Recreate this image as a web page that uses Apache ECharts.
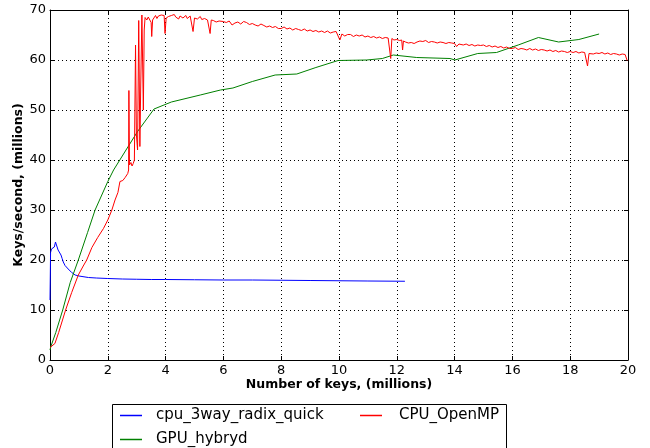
<!DOCTYPE html>
<html>
<head>
<meta charset="utf-8">
<script src="https://cdn.jsdelivr.net/npm/echarts@6/dist/echarts.min.js"></script>
<style>html,body{margin:0;padding:0;background:#fff}#c{width:650px;height:448px}</style>
</head>
<body>
<div id="c"></div>
<script>
var seriesNames = ['cpu_3way_radix_quick', 'GPU_hybryd', 'CPU_OpenMP'];
var xTicks = { min: 0, max: 20, interval: 2 };
var yTicks = { min: 0, max: 70, interval: 10 };

var cpuRadix = [
  [0, 12], [0.02, 21.5], [0.05, 22.2], [0.1, 22.3], [0.15, 22.6], [0.19, 23.6], [0.22, 24.0],
  [0.25, 23.2], [0.28, 22.0], [0.31, 22.3], [0.34, 22.2], [0.38, 21.0], [0.42, 20.3],
  [0.46, 19.6], [0.52, 18.9], [0.63, 18.2], [0.75, 17.5], [0.87, 17.0], [1.0, 16.8],
  [1.33, 16.5], [1.6, 16.4], [2.0, 16.3], [2.5, 16.2], [3.0, 16.15], [3.52, 16.1],
  [4.0, 16.1], [5.0, 16.05], [6.0, 16.0], [7.0, 16.0], [8.0, 15.95], [9.0, 15.9],
  [10.0, 15.85], [11.0, 15.8], [12.28, 15.75]
];

var gpuHybryd = [
  [0, 2.0], [0.03, 2.7], [0.2, 5.5], [0.44, 10], [0.7, 15.5], [0.98, 20], [1.3, 25.5],
  [1.56, 30], [2.0, 35.7], [2.2, 38], [2.63, 42], [3.03, 45.7], [3.6, 50.2], [4.2, 51.6],
  [5.2, 53.0], [5.9, 54.0], [6.33, 54.4], [7.0, 55.7], [7.79, 57.0], [8.54, 57.2],
  [9.2, 58.5], [9.97, 59.9], [10.96, 60.0], [11.5, 60.3], [11.88, 61.0], [12.69, 60.5],
  [13.84, 60.3], [14.01, 60.0], [14.8, 61.3], [15.45, 61.5], [16.2, 63.0], [16.9, 64.5],
  [17.6, 63.6], [18.3, 64.1], [19.0, 65.2]
];

var cpuOpenMP = [
  [0, 2.5], [0.05, 2.3], [0.17, 3.3], [0.3, 5.5], [0.54, 10], [0.75, 13.5], [0.98, 17],
  [1.15, 18.8], [1.27, 20], [1.45, 22.5], [1.65, 24.5], [1.85, 26.3], [2.0, 28], [2.14, 30],
  [2.25, 32], [2.35, 33.5], [2.42, 35.7], [2.52, 35.9], [2.6, 36.5], [2.69, 37.3], [2.72, 38],
  [2.73, 53.9], [2.75, 39], [2.8, 39.5], [2.84, 38.8], [2.88, 39.3], [2.92, 40], [2.96, 63],
  [2.99, 45], [3.03, 42], [3.07, 67.9], [3.11, 42.7], [3.14, 55], [3.18, 69], [3.23, 50],
  [3.26, 66], [3.29, 68.5],
  [3.30, 68.5], [3.35, 68.0], [3.40, 68.6], [3.45, 68.2], [3.50, 67.5], [3.52, 64.7], [3.55, 68.0],
  [3.60, 68.4], [3.65, 68.9], [3.70, 68.3], [3.75, 68.8], [3.80, 68.5], [3.85, 69.0], [3.90, 68.6],
  [3.95, 68.9], [3.98, 65.3], [4.02, 68.4], [4.10, 68.7], [4.15, 68.3], [4.20, 68.9], [4.25, 68.5],
  [4.30, 69.1], [4.35, 68.6], [4.40, 68.9], [4.45, 68.2], [4.50, 68.8], [4.55, 69.0], [4.60, 68.4],
  [4.65, 68.7], [4.70, 68.9], [4.75, 68.3], [4.80, 68.6], [4.85, 68.8], [4.90, 68.5], [4.95, 65.7],
  [5.00, 68.4], [5.05, 68.7], [5.10, 68.2], [5.15, 68.6], [5.20, 68.7], [5.25, 68.1], [5.30, 68.5],
  [5.35, 68.3], [5.40, 68.6], [5.45, 68.0], [5.50, 68.2], [5.54, 65.3], [5.58, 68.0], [5.65, 67.9],
  [5.70, 68.2], [5.75, 67.6], [5.80, 67.9], [5.85, 67.8], [5.90, 67.4], [6.00, 67.7], [6.10, 67.5],
  [6.20, 67.8], [6.30, 67.0], [6.40, 67.4], [6.50, 67.6], [6.60, 67.2], [6.70, 67.7], [6.80, 67.5],
  [6.90, 67.1], [7.00, 67.3], [7.10, 67.0], [7.20, 66.8], [7.30, 67.2], [7.40, 66.9], [7.50, 66.6],
  [7.60, 66.8], [7.70, 66.5], [7.80, 66.7], [7.90, 66.3], [8.00, 66.3], [8.10, 66.6], [8.20, 66.2],
  [8.30, 66.4], [8.40, 66.0], [8.50, 66.3], [8.60, 66.1], [8.70, 65.9], [8.80, 66.2], [8.90, 65.8],
  [9.00, 66.0], [9.10, 65.7], [9.20, 65.9], [9.30, 65.6], [9.40, 65.8], [9.50, 65.5], [9.60, 65.8],
  [9.70, 65.4], [9.80, 65.6], [9.90, 65.7], [9.95, 65.9], [10.03, 64.0], [10.10, 65.2], [10.20, 64.8],
  [10.30, 65.1], [10.40, 65.1], [10.50, 64.7], [10.60, 65.0], [10.70, 64.8], [10.80, 65.0], [10.90, 64.6],
  [11.00, 64.8], [11.10, 64.5], [11.20, 64.7], [11.30, 64.4], [11.40, 64.6], [11.50, 64.3], [11.60, 64.5],
  [11.70, 64.4], [11.75, 64.2], [11.79, 60.3], [11.83, 64.3], [11.90, 64.0], [12.00, 64.1], [12.10, 63.9],
  [12.17, 64.0], [12.20, 62.0], [12.23, 63.8], [12.30, 63.6], [12.40, 63.4], [12.50, 63.5], [12.60, 63.3],
  [12.70, 63.6], [12.80, 63.8], [12.90, 63.7], [13.00, 63.9], [13.10, 63.5], [13.20, 63.7], [13.30, 63.6],
  [13.40, 63.4], [13.50, 63.6], [13.60, 63.5], [13.70, 63.3], [13.80, 63.5], [13.90, 63.4], [14.00, 63.3],
  [14.07, 62.7], [14.15, 63.2], [14.30, 63.0], [14.40, 63.2], [14.50, 62.9], [14.60, 63.1], [14.70, 62.8],
  [14.80, 63.0], [14.90, 62.9], [15.00, 63.0], [15.10, 62.7], [15.20, 62.9], [15.30, 62.6], [15.40, 62.8],
  [15.50, 62.5], [15.60, 62.7], [15.70, 62.4], [15.80, 62.6], [15.90, 62.3], [16.00, 62.3], [16.10, 62.5],
  [16.20, 62.1], [16.30, 62.3], [16.40, 62.2], [16.50, 62.0], [16.60, 62.3], [16.70, 62.0], [16.80, 62.2],
  [16.90, 61.9], [17.00, 62.1], [17.10, 62.0], [17.20, 61.8], [17.30, 62.0], [17.40, 61.7], [17.50, 61.9],
  [17.60, 61.6], [17.70, 61.8], [17.80, 61.7], [17.90, 61.5], [18.00, 61.7], [18.10, 61.5], [18.20, 61.7],
  [18.30, 61.4], [18.40, 61.6], [18.50, 61.5], [18.55, 61.3], [18.60, 58.8], [18.65, 61.3], [18.70, 61.5],
  [18.80, 61.2], [18.90, 61.4], [19.00, 61.3], [19.10, 61.5], [19.20, 61.2], [19.30, 61.4], [19.40, 61.1],
  [19.50, 61.3], [19.60, 61.2], [19.70, 61.0], [19.80, 61.2], [19.90, 61.1], [19.97, 59.9]
];

var colors = ['#0000ff', '#008000', '#ff0000'];
var seriesData = [cpuRadix, gpuHybryd, cpuOpenMP];

var FONT = 'DejaVu Sans';
var chart = echarts.init(document.getElementById('c'), null, { renderer: 'canvas' });

function mkAxis(base, pos, showLabel, showSplit, extra) {
  var a = {
    type: 'value', position: pos,
    min: base.min, max: base.max, interval: base.interval,
    axisLine: { show: true, onZero: false, lineStyle: { color: '#000', width: 1 } },
    axisTick: { show: true, inside: true, length: 4, lineStyle: { color: '#000', width: 1 } },
    axisLabel: { show: showLabel, color: '#000', fontFamily: FONT, fontSize: 13, margin: 4 },
    splitLine: { show: showSplit, lineStyle: { color: '#000', width: 1, type: [1, 3] } }
  };
  for (var k in extra) a[k] = extra[k];
  return a;
}

var legendIcon = 'path://M0,0H22V1.5H0Z';

var option = {
  animation: false,
  backgroundColor: '#fff',
  grid: { left: 50, right: 22, top: 10, bottom: 88, containLabel: false, outerBoundsMode: 'none' },
  xAxis: [
    mkAxis(xTicks, 'bottom', true, true, {
      name: 'Number of keys, (millions)', nameLocation: 'middle', nameGap: 18,
      nameMoveOverlap: false,
      nameTextStyle: { color: '#000', fontFamily: FONT, fontSize: 12.5, fontWeight: 'bold' }
    }),
    mkAxis(xTicks, 'top', false, false, {})
  ],
  yAxis: [
    mkAxis(yTicks, 'left', true, true, {
      name: 'Keys/second, (millions)', nameLocation: 'middle', nameGap: 25,
      nameMoveOverlap: false,
      nameTextStyle: { color: '#000', fontFamily: FONT, fontSize: 12.5, fontWeight: 'bold' }
    }),
    mkAxis(yTicks, 'right', false, false, {})
  ],
  legend: [
    {
      left: 120, top: 408, orient: 'vertical', padding: 0, itemGap: 9,
      itemWidth: 22, itemHeight: 1.5, icon: legendIcon,
      data: [seriesNames[0], seriesNames[1]],
      textStyle: { color: '#000', fontFamily: FONT, fontSize: 15, padding: [0, 0, 0, 9] },
      selectedMode: false
    },
    {
      left: 360, top: 408, orient: 'vertical', padding: 0, itemGap: 9,
      itemWidth: 22, itemHeight: 1.5, icon: legendIcon,
      data: [seriesNames[2]],
      textStyle: { color: '#000', fontFamily: FONT, fontSize: 15, padding: [0, 0, 0, 12] },
      selectedMode: false
    }
  ],
  graphic: [
    { type: 'rect', left: 110, top: 402, shape: { width: 394, height: 60 },
      style: { fill: 'none', stroke: '#000', lineWidth: 1 }, z: -1 }
  ],
  series: seriesNames.map(function (n, i) {
    return {
      name: n, type: 'line', data: seriesData[i], xAxisIndex: 0, yAxisIndex: 0,
      showSymbol: false, symbol: 'none', color: colors[i],
      lineStyle: { color: colors[i], width: 1 }, itemStyle: { color: colors[i] }
    };
  })
};
chart.setOption(option);
</script>
</body>
</html>
